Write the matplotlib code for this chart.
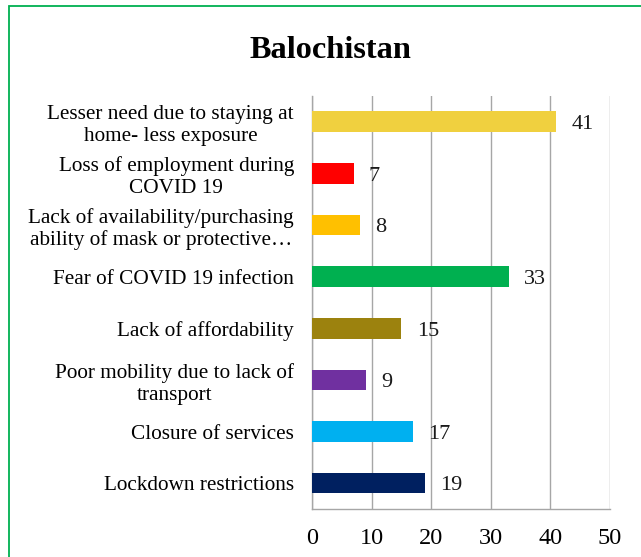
import matplotlib.pyplot as plt
from matplotlib.patches import Rectangle

plt.rcParams['font.family'] = ['Liberation Serif', 'DejaVu Serif']

categories = [
    "Lesser need due to staying at\nhome- less exposure",
    "Loss of employment during\nCOVID 19",
    "Lack of availability/purchasing\nability of mask or protective\u2026",
    "Fear of COVID 19 infection",
    "Lack of affordability",
    "Poor mobility due to lack of\ntransport",
    "Closure of services",
    "Lockdown restrictions",
]
values = [41, 7, 8, 33, 15, 9, 17, 19]
colors = ["#F0D03F", "#FF0000", "#FFC000", "#00B050",
          "#9C820E", "#7030A0", "#00B0F0", "#002060"]
xticks = [0, 10, 20, 30, 40, 50]

fig = plt.figure(figsize=(6.41, 5.57), dpi=100)
ax = fig.add_axes([0.4867, 0.0862, 0.4649, 0.7415])

ypos = list(range(len(categories)))
ax.barh(ypos, values, height=0.4, color=colors, zorder=3)
for y, v in zip(ypos, values):
    ax.annotate(str(v), (v, y), xytext=(11, -2), textcoords="offset points",
                ha="left", va="center", fontsize=16, color="#1a1a1a")

ax.set_xlim(0, 50)
ax.set_ylim(len(categories) - 0.5, -0.5)
ax.set_xticks(xticks)
ax.set_yticks(ypos)
ax.set_yticklabels(categories, fontsize=15.3, multialignment="center",
                   linespacing=1.2)
ax.tick_params(axis="x", length=0, pad=14, labelsize=17.5)
ax.tick_params(axis="y", length=0, pad=13)
ax.grid(axis="x", color="#A6A6A6", linewidth=1, zorder=0)
for side in ("top", "right"):
    ax.spines[side].set_visible(False)
for side in ("left", "bottom"):
    ax.spines[side].set_color("#A6A6A6")
    ax.spines[side].set_linewidth(1)

fig.text(0.515, 0.909, "Balochistan", ha="center", va="center",
         fontsize=23.3, fontweight="bold")

# green frame around the chart area
fig.patches.append(Rectangle((0.014, -0.05), 1.1, 1.039, transform=fig.transFigure,
                             fill=False, edgecolor="#00B050", linewidth=1.3))

fig.savefig("out.png", dpi=100)
